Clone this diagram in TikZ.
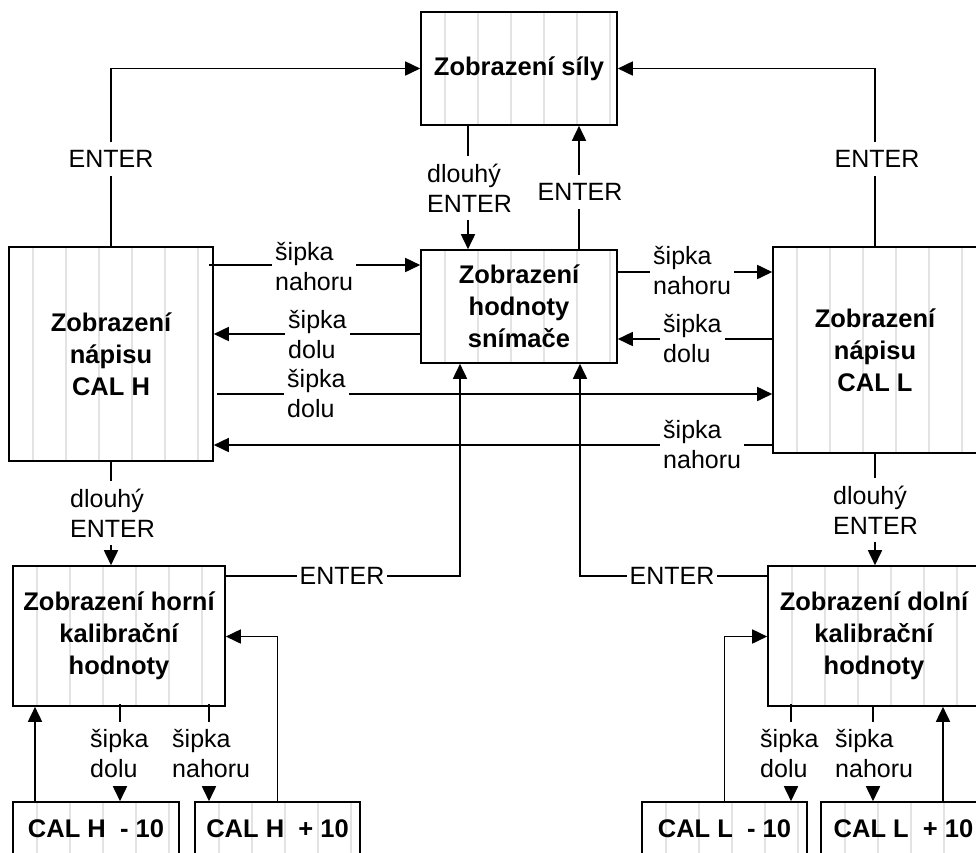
\documentclass[tikz,border=0pt]{standalone}
\usepackage{fontspec}
\setmainfont{Liberation Sans}
\usetikzlibrary{arrows.meta,calc}
\begin{document}
\begin{tikzpicture}[x=1pt,y=-1pt,
  font=\fontsize{25}{30}\selectfont,
  box/.style={draw=black, line width=1.6pt, fill=white, align=center,
    font=\fontsize{25.5}{32}\selectfont\bfseries, inner sep=0pt,
    path picture={\foreach \k in {0,...,7}{\draw[black!11, line width=1.8pt]
      ([xshift=24pt+\k*33pt]path picture bounding box.south west) --
      ([xshift=24pt+\k*33pt]path picture bounding box.north west);}}},
  lbl/.style={fill=white, align=center, inner xsep=3pt, inner ysep=8pt},
  lbll/.style={lbl, align=left, anchor=west},
  conn/.style={line width=1.7pt},
  arr/.style={conn, -{Triangle[length=15pt,width=14pt]}},
]
\useasboundingbox (0,0) rectangle (976,852);
\clip (0,0) rectangle (976,852);

% boxes
\node[box, minimum width=196pt, minimum height=113pt] (A) at (519,68.5) {Zobrazení síly};
\node[box, minimum width=196pt, minimum height=113pt] (C) at (519,306.5) {Zobrazení\\hodnoty\\snímače};
\node[box, minimum width=204pt, minimum height=214pt] (L) at (111,354) {Zobrazení\\nápisu\\CAL H};
\node[box, minimum width=204pt, minimum height=206pt] (R) at (875,350) {Zobrazení\\nápisu\\CAL L};
\node[box, minimum width=212pt, minimum height=140pt] (BL) at (119,636) {Zobrazení horní\\kalibrační\\hodnoty};
\node[box, minimum width=212pt, minimum height=140pt] (BR) at (874,636) {Zobrazení dolní\\kalibrační\\hodnoty};
\node[box, minimum width=166pt, minimum height=54pt] (P1) at (96,829) {CAL H\ \ - 10};
\node[box, minimum width=165pt, minimum height=54pt] (P2) at (277.5,829) {CAL H\ \ + 10};
\node[box, minimum width=165pt, minimum height=54pt] (P3) at (724.5,829) {CAL L\ \ - 10};
\node[box, minimum width=165pt, minimum height=54pt] (P4) at (903.5,829) {CAL L\ \ + 10};

% helper coordinates
\coordinate (h1) at (0,265);
\coordinate (h2) at (0,334);
\coordinate (h3) at (0,394);
\coordinate (h4) at (0,445);
\coordinate (h5) at (0,272);
\coordinate (h6) at (0,339);
\coordinate (h7) at (0,576);
\coordinate (h8) at (0,636.5);
\coordinate (v1) at (460,0);
\coordinate (v2) at (580,0);
\coordinate (v3) at (35,0);
\coordinate (v4) at (120,0);
\coordinate (v5) at (209,0);
\coordinate (v6) at (791,0);
\coordinate (v7) at (873,0);
\coordinate (v8) at (943,0);

% connectors
\draw[arr] (L.north) |- (A.west);
\draw[arr] (R.north) |- (A.east);
\draw[arr] ([xshift=-51pt]A.south) -- ([xshift=-51pt]C.north);
\draw[arr] ([xshift=60pt]C.north) -- ([xshift=60pt]A.south);
\draw[arr] ([xshift=-5pt]L.east |- h1) -- (C.west |- h1);
\draw[arr] (C.west |- h2) -- (L.east |- h2);
\draw[arr] ([xshift=3pt]L.east |- h3) -- (R.west |- h3);
\draw[arr] (R.west |- h4) -- (L.east |- h4);
\draw[arr] (C.east |- h5) -- (R.west |- h5);
\draw[arr] (R.west |- h6) -- (C.east |- h6);
\draw[arr] (L.south) -- (L.south |- BL.north);
\draw[arr] (R.south) -- (R.south |- BR.north);
\draw[arr] (BL.east |- h7) -| (v1 |- C.south);
\draw[arr] (BR.west |- h7) -| (v2 |- C.south);
\draw[arr] (P1.north -| v3) -- (BL.south -| v3);
\draw[arr] ([yshift=3pt]BL.south -| v4) -- (P1.north -| v4);
\draw[arr] ([yshift=3pt]BL.south -| v5) -- (P2.north -| v5);
\draw[arr] (P2.north) |- (BL.east |- h8);
\draw[arr] (P3.north) |- (BR.west |- h8);
\draw[arr] ([yshift=3pt]BR.south -| v6) -- (P3.north -| v6);
\draw[arr] (BR.south -| v7) -- (P4.north -| v7);
\draw[arr] (P4.north -| v8) -- (BR.south -| v8);

% labels
\node[lbl] (t1) at (111,159) {ENTER};
\node[lbl] (t2) at (877,159) {ENTER};
\node[lbll] (t3) at (424,188) {dlouhý\\ENTER};
\node[lbl] (t4) at (580,192) {ENTER};
\node[lbll] (t5) at (272,267) {šipka\\nahoru};
\node[lbll] (t6) at (285,335) {šipka\\dolu};
\node[lbll] (t7) at (284,394) {šipka\\dolu};
\node[lbll] (t8) at (660,445) {šipka\\nahoru};
\node[lbll] (t9) at (650,271) {šipka\\nahoru};
\node[lbll] (t10) at (660,339) {šipka\\dolu};
\node[lbll] (t11) at (67,513) {dlouhý\\ENTER};
\node[lbll] (t12) at (830,510) {dlouhý\\ENTER};
\node[lbl] (t13) at (342,576) {ENTER};
\node[lbl] (t14) at (672,576) {ENTER};
\node[lbll] (t15) at (87,754) {šipka\\dolu};
\node[lbll] (t16) at (169,754) {šipka\\nahoru};
\node[lbll] (t17) at (757,754) {šipka\\dolu};
\node[lbll] (t18) at (832,754) {šipka\\nahoru};
\end{tikzpicture}
\end{document}
